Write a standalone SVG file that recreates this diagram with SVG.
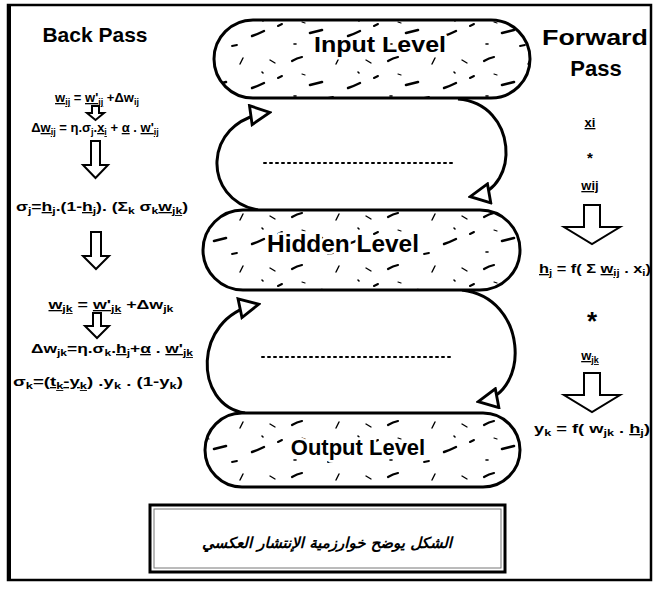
<svg xmlns="http://www.w3.org/2000/svg" width="656" height="589" viewBox="0 0 656 589">
<style>
.frame{fill:none;stroke:#000;stroke-width:2.5}
.oval{fill:url(#speckle);stroke:#000;stroke-width:3}
.conn{fill:none;stroke:#000;stroke-width:3}
.h{font-family:"Liberation Sans",Arial,sans-serif;font-weight:bold;fill:#000}
.lbl{stroke:#fff;stroke-width:5;stroke-linejoin:round;paint-order:stroke}
.f{font-family:"Liberation Sans",Arial,sans-serif;font-weight:bold;font-size:13px;fill:#000}
.s{font-size:9px}
.dots{stroke:#000;stroke-width:2;stroke-dasharray:2 4;stroke-linecap:round}
.arr{fill:#fff;stroke:#000;stroke-width:2;stroke-linejoin:miter}
.u{text-decoration:underline}
</style>
<defs>
<pattern id="speckle" width="96" height="52" patternUnits="userSpaceOnUse">
<rect width="96" height="52" fill="#fff"/>
<g stroke="#000" stroke-linecap="round" fill="none">
<path d="M4 9 q5 -3 10 -4" stroke-width="2.2"/>
<path d="M22 33 l12 -3" stroke-width="2.6"/>
<path d="M48 12 l3 -6" stroke-width="1.4"/>
<path d="M60 36 q6 -2 12 -5" stroke-width="2.4"/>
<path d="M14 22 l3 1" stroke-width="1.2"/>
<path d="M40 46 l5 -1" stroke-width="1.8"/>
<path d="M78 8 l5 3" stroke-width="1.4"/>
<path d="M86 26 l4 -2" stroke-width="2"/>
<path d="M6 44 l2 0" stroke-width="1.6"/>
<path d="M70 20 l1 1" stroke-width="1.6"/>
</g>
</pattern>
<marker id="tri" viewBox="0 0 12 12" refX="9" refY="6" markerWidth="23" markerHeight="23" markerUnits="userSpaceOnUse" orient="auto">
<path d="M1 1 L11 6 L1 11 Z" fill="#fff" stroke="#000" stroke-width="1.5"/>
</marker>
</defs>
<rect class="frame" x="8" y="5" width="643" height="575"/>
<line x1="9" y1="5" x2="9" y2="580" stroke="#000" stroke-width="4"/>

<g id="connectors">
<path class="conn" d="M258 210 C202 200 202 122 266 113" marker-end="url(#tri)"/>
<path class="conn" d="M458 99 C518 104 520 188 474 196" marker-end="url(#tri)"/>
<path class="conn" d="M245 413 C193 405 193 318 255 305" marker-end="url(#tri)"/>
<path class="conn" d="M462 290 C528 298 530 392 482 401" marker-end="url(#tri)"/>
<line class="dots" x1="264" y1="163" x2="452" y2="163"/>
<line class="dots" x1="262" y1="357" x2="450" y2="357"/>
</g>

<g id="input-level">
<rect class="oval" x="214" y="20" width="316" height="78" rx="39"/>
<text class="h lbl" x="380" y="52" font-size="22" text-anchor="middle" textLength="132" lengthAdjust="spacingAndGlyphs">Input Level</text>
</g>
<g id="hidden-level">
<rect class="oval" x="203" y="210" width="317" height="80" rx="40"/>
<text class="h lbl" x="343" y="252" font-size="23" text-anchor="middle" textLength="152" lengthAdjust="spacingAndGlyphs">Hidden Level</text>
</g>
<g id="output-level">
<rect class="oval" x="205" y="413" width="315" height="74" rx="37"/>
<text class="h lbl" x="358" y="455" font-size="22" text-anchor="middle">Output Level</text>
</g>

<g id="back-pass">
<text class="h" x="95" y="42" font-size="21" text-anchor="middle">Back Pass</text>
<text class="f" x="97" y="102" text-anchor="middle"><tspan class="u">w<tspan class="s" baseline-shift="-3">ij</tspan></tspan> = <tspan class="u">w'<tspan class="s" baseline-shift="-3">ij</tspan></tspan> +Δw<tspan class="s" baseline-shift="-3">ij</tspan></text>
<path class="arr" d="M92 106 h7 v7 h5 l-8.5 7 l-8.5 -7 h5 z"/>
<text class="f" x="95" y="132" text-anchor="middle">Δ<tspan class="u">w<tspan class="s" baseline-shift="-3">ij</tspan></tspan> = η.σ<tspan class="s" baseline-shift="-3">j</tspan>.<tspan class="u">x<tspan class="s" baseline-shift="-3">i</tspan></tspan> + <tspan class="u">α</tspan> . <tspan class="u">w'<tspan class="s" baseline-shift="-3">ij</tspan></tspan></text>
<path class="arr" d="M91 141 h9 v24 h8 l-12.5 13 l-12.5 -13 h8 z"/>
<text class="f" x="102" y="211" text-anchor="middle" textLength="172" lengthAdjust="spacingAndGlyphs">σ<tspan class="s" baseline-shift="-3">j</tspan>=<tspan class="u">h<tspan class="s" baseline-shift="-3">j</tspan></tspan>.(1-<tspan class="u">h<tspan class="s" baseline-shift="-3">j</tspan></tspan>). (Σ<tspan class="s" baseline-shift="-3">k</tspan> σ<tspan class="s" baseline-shift="-3">k</tspan><tspan class="u">w<tspan class="s" baseline-shift="-3">jk</tspan></tspan>)</text>
<path class="arr" d="M91 232 h10 v24 h8 l-13 13 l-13 -13 h8 z"/>
<text class="f" x="111" y="309" text-anchor="middle" textLength="125" lengthAdjust="spacingAndGlyphs"><tspan class="u">w<tspan class="s" baseline-shift="-3">jk</tspan></tspan> = <tspan class="u">w'<tspan class="s" baseline-shift="-3">jk</tspan></tspan> +Δw<tspan class="s" baseline-shift="-3">jk</tspan></text>
<path class="arr" d="M93 313 h8 v13 h8 l-12 12 l-12 -12 h8 z"/>
<text class="f" x="112" y="353" text-anchor="middle" textLength="162" lengthAdjust="spacingAndGlyphs">Δw<tspan class="s" baseline-shift="-3">jk</tspan>=η.σ<tspan class="s" baseline-shift="-3">k</tspan>.<tspan class="u">h<tspan class="s" baseline-shift="-3">j</tspan></tspan>+<tspan class="u">α</tspan> . <tspan class="u">w'<tspan class="s" baseline-shift="-3">jk</tspan></tspan></text>
<text class="f" x="98" y="386" text-anchor="middle" textLength="170" lengthAdjust="spacingAndGlyphs">σ<tspan class="s" baseline-shift="-3">k</tspan>=(<tspan class="u">t<tspan class="s" baseline-shift="-3">k</tspan>-y<tspan class="s" baseline-shift="-3">k</tspan></tspan>) .y<tspan class="s" baseline-shift="-3">k</tspan> . (1-y<tspan class="s" baseline-shift="-3">k</tspan>)</text>
</g>

<g id="forward-pass">
<text class="h" x="595" y="45" font-size="22" text-anchor="middle" textLength="106" lengthAdjust="spacingAndGlyphs">Forward</text>
<text class="h" x="596" y="76" font-size="22" text-anchor="middle">Pass</text>
<text class="f" x="590" y="127" text-anchor="middle"><tspan class="u">xi</tspan></text>
<text class="h" x="590" y="163" font-size="15" text-anchor="middle">*</text>
<text class="f" x="590" y="190" text-anchor="middle"><tspan class="u">wij</tspan></text>
<path class="arr" d="M584 205 h16 v22 h20 l-28 17 l-28 -17 h20 z"/>
<text class="f" x="595" y="273" text-anchor="middle" textLength="112" lengthAdjust="spacingAndGlyphs"><tspan class="u">h<tspan class="s" baseline-shift="-3">j</tspan></tspan> = f( Σ <tspan class="u">w<tspan class="s" baseline-shift="-3">ij</tspan></tspan> . x<tspan class="s" baseline-shift="-3">i</tspan>)</text>
<text class="h" x="592" y="330" font-size="26" text-anchor="middle">*</text>
<text class="f" x="590" y="360" text-anchor="middle"><tspan class="u">w<tspan class="s" baseline-shift="-3">jk</tspan></tspan></text>
<path class="arr" d="M584 373 h16 v22 h20 l-28 17 l-28 -17 h20 z"/>
<text class="f" x="592" y="433" text-anchor="middle" textLength="116" lengthAdjust="spacingAndGlyphs">y<tspan class="s" baseline-shift="-3">k</tspan> = f( w<tspan class="s" baseline-shift="-3">jk</tspan> . <tspan class="u">h<tspan class="s" baseline-shift="-3">j</tspan></tspan>)</text>
</g>

<g id="caption">
<rect x="150" y="505" width="355" height="67" fill="#fff" stroke="#000" stroke-width="3"/>
<rect x="154" y="509" width="347" height="59" fill="none" stroke="#777" stroke-width="1"/>
<text x="327" y="548" font-family="'DejaVu Sans',sans-serif" font-size="15" font-weight="bold" font-style="italic" text-anchor="middle" direction="rtl">الشكل يوضح خوارزمية الإنتشار العكسي</text>
</g>
</svg>
